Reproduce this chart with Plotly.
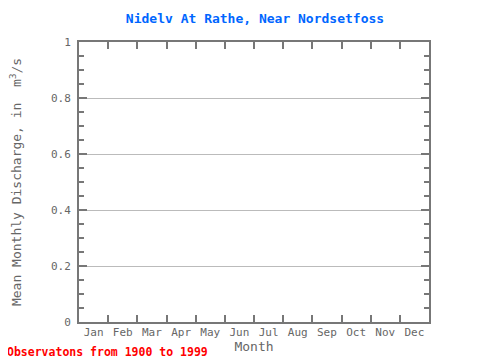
import plotly.graph_objects as go

months = ["Jan", "Feb", "Mar", "Apr", "May", "Jun", "Jul", "Aug", "Sep", "Oct", "Nov", "Dec"]
month_index = list(range(1, 13))
discharge = [None] * 12  # no observations shown in the reference
boundaries = [i + 0.5 for i in range(1, 12)]
y_ticks = [0, 0.2, 0.4, 0.6, 0.8, 1]
y_ticktext = ["0", "0.2", "0.4", "0.6", "0.8", "1"]

FONT = "DejaVu Sans Mono"
AX = "#777777"

fig = go.Figure()
fig.add_trace(go.Scatter(x=month_index, y=discharge, mode="lines", showlegend=False))
fig.add_trace(go.Scatter(x=month_index, y=discharge, xaxis="x2", mode="lines",
                         showlegend=False, hoverinfo="skip"))

fig.update_layout(
    width=480, height=360,
    margin=dict(l=71, r=59, t=34, b=46),
    paper_bgcolor="white", plot_bgcolor="white",
    font=dict(family=FONT, color="#666666", size=11),
    title=dict(text="<b>Nidelv At Rathe, Near Nordsetfoss</b>", x=(255 - 8) / 480, xanchor="center",
               y=1 - 10 / 360, yanchor="middle", font=dict(family=FONT, size=13, color="#0066ff")),
    xaxis=dict(range=[0.5, 12.5], tickvals=month_index, ticktext=months, ticks="",
               showgrid=False, zeroline=False, showline=False, automargin=False,
               ticklabelstandoff=2,
               title=dict(text="Month", font=dict(size=13, color="#666666"), standoff=2),
               tickfont=dict(size=11, color="#666666")),
    xaxis2=dict(range=[0.5, 12.5], overlaying="x", side="bottom", tickvals=boundaries,
                showticklabels=False, ticks="inside", ticklen=7, tickwidth=2, tickcolor=AX,
                showline=True, linecolor=AX, linewidth=2, mirror="ticks", automargin=False,
                showgrid=False, zeroline=False),
    yaxis=dict(range=[0, 1], tickvals=y_ticks, ticktext=y_ticktext, ticks="inside", ticklen=8,
               tickwidth=2, tickcolor=AX, showline=True, linecolor=AX, linewidth=2,
               mirror="ticks", showgrid=True, gridcolor="#bbbbbb", gridwidth=1,
               zeroline=False, automargin=False, ticklabelstandoff=4,
               minor=dict(dtick=0.05, ticks="inside", ticklen=5, tickwidth=2, tickcolor=AX,
                          showgrid=False),
               title=dict(text="Mean Monthly Discharge, in  m<sup>3</sup>/s",
                          font=dict(size=13, color="#666666"), standoff=28),
               tickfont=dict(size=11, color="#666666")),
)

fig.add_annotation(text="<b>Observatons from 1900 to 1999</b>", xref="paper", yref="paper",
                   x=-74/350, y=-30/280, xanchor="left", yanchor="middle", showarrow=False,
                   font=dict(family=FONT, size=11.5, color="#ff0000"))

fig.write_html("out.html")
